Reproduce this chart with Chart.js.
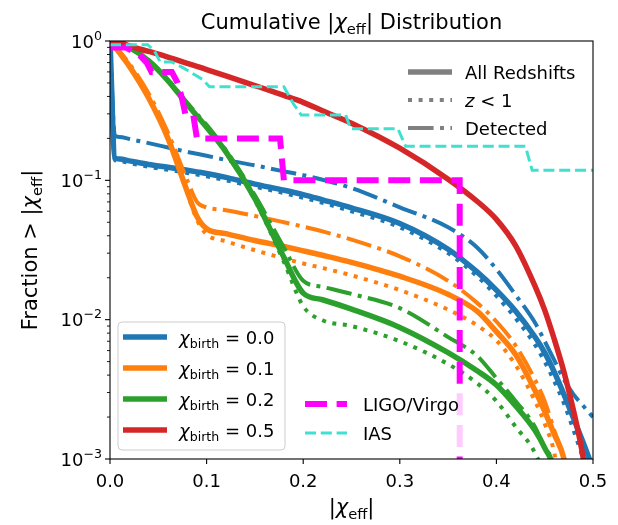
<!DOCTYPE html>
<html>
<head>
<meta charset="utf-8">
<script src="https://cdn.jsdelivr.net/npm/chart.js@4.4.0/dist/chart.umd.min.js"></script>
<style>
  html, body { margin: 0; padding: 0; background: #fff; }
</style>
</head>
<body>
<canvas id="cdf" width="618" height="525"></canvas>
<script>
// |chi_eff| grid shared by the model curves
const chiGrid = [0, 0.005, 0.01, 0.02, 0.04, 0.06, 0.08, 0.09, 0.1, 0.12, 0.15, 0.18, 0.2, 0.22, 0.25, 0.3, 0.35, 0.38, 0.4, 0.42, 0.44, 0.45, 0.46, 0.47, 0.48, 0.49, 0.5];

// chi_birth = 0.0
const all00 = [1.0, 0.145, 0.142, 0.138, 0.13, 0.124, 0.118, 0.115, 0.112, 0.105, 0.094, 0.085, 0.079, 0.0725, 0.0635, 0.049, 0.032, 0.022, 0.0163, 0.0115, 0.0075, 0.0058, 0.0042, 0.0029, 0.00195, 0.0013, 0.00085];
const low00 = [1.0, 0.14, 0.137, 0.133, 0.125, 0.119, 0.113, 0.11, 0.107, 0.1, 0.09, 0.081, 0.075, 0.069, 0.06, 0.046, 0.03, 0.0205, 0.0148, 0.0102, 0.0066, 0.005, 0.0036, 0.0025, 0.0016, 0.001, 0.0006];
const det00 = [1.0, 0.21, 0.205, 0.198, 0.185, 0.172, 0.16, 0.155, 0.15, 0.14, 0.128, 0.116, 0.109, 0.101, 0.088, 0.064, 0.046, 0.033, 0.023, 0.015, 0.0095, 0.007, 0.0051, 0.0037, 0.0029, 0.0024, 0.002];
// chi_birth = 0.1
const all01 = [1.0, 0.91, 0.82, 0.66, 0.39, 0.2, 0.083, 0.055, 0.045, 0.0415, 0.037, 0.0335, 0.0312, 0.029, 0.0258, 0.0205, 0.0152, 0.0115, 0.0082, 0.0056, 0.0031, 0.0022, 0.0015, 0.001, 0.0004, null, null];
const low01 = [1.0, 0.91, 0.82, 0.66, 0.39, 0.2, 0.081, 0.052, 0.041, 0.0365, 0.0315, 0.0275, 0.0253, 0.0235, 0.0208, 0.0163, 0.0118, 0.0091, 0.0071, 0.0047, 0.0026, 0.0018, 0.0011, 0.0004, null, null, null];
const det01 = [1.0, 0.92, 0.84, 0.69, 0.42, 0.22, 0.1, 0.07, 0.064, 0.061, 0.0555, 0.05, 0.0465, 0.043, 0.0375, 0.0285, 0.019, 0.0132, 0.0097, 0.0065, 0.0037, 0.0026, 0.0016, 0.001, 0.0004, null, null];
// chi_birth = 0.2
const all02 = [1.0, 0.98, 0.96, 0.9, 0.72, 0.52, 0.35, 0.29, 0.24, 0.16, 0.074, 0.028, 0.0155, 0.0139, 0.0119, 0.0088, 0.0058, 0.0043, 0.0034, 0.0024, 0.0016, 0.0012, 0.0008, 0.0002, null, null, null];
const low02 = [1.0, 0.98, 0.96, 0.9, 0.72, 0.52, 0.35, 0.29, 0.24, 0.16, 0.072, 0.026, 0.0125, 0.0099, 0.009, 0.007, 0.0048, 0.0035, 0.0026, 0.0017, 0.0011, 0.0007, 0.0002, null, null, null, null];
const det02 = [1.0, 0.98, 0.96, 0.9, 0.73, 0.53, 0.36, 0.3, 0.25, 0.165, 0.078, 0.033, 0.019, 0.0172, 0.0153, 0.0121, 0.0075, 0.0055, 0.0038, 0.0026, 0.0017, 0.0012, 0.0009, 0.0003, null, null, null];
// chi_birth = 0.5
const all05 = [1.0, 0.991, 0.98, 0.923, 0.841, 0.767, 0.692, 0.658, 0.624, 0.562, 0.479, 0.407, 0.363, 0.316, 0.257, 0.17, 0.102, 0.0708, 0.0525, 0.0339, 0.0174, 0.0117, 0.0072, 0.0042, 0.0022, 0.001, 0.0003];

// observed catalogues
const ligoChi  = [0, 0.016, 0.03, 0.038, 0.043, 0.064, 0.07, 0.074, 0.078, 0.086, 0.09, 0.176, 0.18, 0.362, 0.362];
const ligoFrac = [0.9, 0.9, 0.8, 0.7, 0.6, 0.6, 0.5, 0.4, 0.3, 0.3, 0.2, 0.2, 0.1, 0.1, 0.0001];
const iasChi  = [0, 0.039, 0.046, 0.052, 0.064, 0.075, 0.085, 0.096, 0.103, 0.18, 0.19, 0.198, 0.244, 0.249, 0.298, 0.306, 0.43, 0.437, 0.52];
const iasFrac = [0.941, 0.941, 0.85, 0.706, 0.706, 0.647, 0.588, 0.529, 0.47, 0.47, 0.353, 0.294, 0.294, 0.235, 0.235, 0.176, 0.176, 0.118, 0.118];

const spinLabels = ['0.0', '0.1', '0.2', '0.5'];
const spinColors = ['#1f77b4', '#ff7f0e', '#2ca02c', '#d62728'];
const xTicks = [0, 0.1, 0.2, 0.3, 0.4, 0.5];
const yTicks = [1, 0.1, 0.01, 0.001];
const yTickExp = ['0', '\u22121', '\u22122', '\u22123'];

const FAM = "'DejaVu Sans'";
const SOLID = [], DOTTED = [4, 6.6], DASHDOT = [25.6, 6.4, 4, 6.4];

function toPoints(xs, ys) {
    const pts = [];
    xs.forEach((x, i) => { if (ys[i] != null) pts.push({x: x, y: ys[i]}); });
    return pts;
}

function model(ys, color, dash) {
    return {
        data: toPoints(chiGrid, ys),
        borderColor: color,
        borderWidth: dash.length ? 4 : 5.5,
        borderDash: dash,
        pointRadius: 0,
        cubicInterpolationMode: 'monotone',
        clip: 0
    };
}

const datasets = [
    model(all00, spinColors[0], SOLID), model(low00, spinColors[0], DOTTED), model(det00, spinColors[0], DASHDOT),
    model(all01, spinColors[1], SOLID), model(low01, spinColors[1], DOTTED), model(det01, spinColors[1], DASHDOT),
    model(all02, spinColors[2], SOLID), model(low02, spinColors[2], DOTTED), model(det02, spinColors[2], DASHDOT),
    model(all05, spinColors[3], SOLID),
    {data: toPoints(ligoChi, ligoFrac), borderColor: '#ff00ff', borderWidth: 6, borderDash: [22, 9.6], pointRadius: 0, tension: 0, clip: 0},
    {data: toPoints(iasChi, iasFrac), borderColor: '#40e0d0', borderWidth: 3, borderDash: [11, 4.8], pointRadius: 0, tension: 0, clip: 0}
];
// later datasets on top, like the plotting order
datasets.forEach((d, i) => { d.order = datasets.length - i; });

function drawRuns(ctx, runs, x, y, align) {
    let w = 0;
    runs.forEach(r => { ctx.font = r.font; r.w = ctx.measureText(r.text).width; w += r.w; });
    let cx = align === 'center' ? x - w / 2 : (align === 'right' ? x - w : x);
    ctx.textAlign = 'left';
    ctx.textBaseline = 'alphabetic';
    runs.forEach(r => { ctx.font = r.font; ctx.fillText(r.text, cx, y + (r.dy || 0)); cx += r.w; });
}

function chiEff(size) {
    return [
        {text: '|', font: `${size}px ${FAM}`},
        {text: '\u03c7', font: `italic ${size}px ${FAM}`},
        {text: 'eff', font: `${size * 0.7}px ${FAM}`, dy: size * 0.22},
        {text: '|', font: `${size}px ${FAM}`}
    ];
}

function sample(ctx, x0, x1, yy, color, width, dash) {
    ctx.beginPath();
    ctx.setLineDash(dash);
    ctx.strokeStyle = color;
    ctx.lineWidth = width;
    ctx.moveTo(x0, yy);
    ctx.lineTo(x1, yy);
    ctx.stroke();
    ctx.setLineDash([]);
}

function roundRect(ctx, x, y, w, h, r) {
    ctx.beginPath();
    ctx.moveTo(x + r, y);
    ctx.arcTo(x + w, y, x + w, y + h, r);
    ctx.arcTo(x + w, y + h, x, y + h, r);
    ctx.arcTo(x, y + h, x, y, r);
    ctx.arcTo(x, y, x + w, y, r);
    ctx.closePath();
}

const decor = {
    id: 'decor',
    afterDatasetsDraw(chart) {
        const ctx = chart.ctx;
        const a = chart.chartArea;
        const xs = chart.scales.x, ys = chart.scales.y;
        ctx.save();
        ctx.fillStyle = '#000';
        ctx.strokeStyle = '#000';

        // frame
        ctx.lineWidth = 1.1;
        ctx.strokeRect(a.left, a.top, a.right - a.left, a.bottom - a.top);

        // x ticks and labels
        xTicks.forEach(v => {
            const px = xs.getPixelForValue(v);
            ctx.beginPath(); ctx.moveTo(px, a.bottom); ctx.lineTo(px, a.bottom + 5); ctx.stroke();
            drawRuns(ctx, [{text: v.toFixed(1), font: `18px ${FAM}`}], px, a.bottom + 28, 'center');
        });

        // y ticks (log, with minors) and labels
        for (let e = -3; e < 0; e++) {
            for (let m = 2; m <= 9; m++) {
                const py = ys.getPixelForValue(m * Math.pow(10, e));
                ctx.lineWidth = 0.9;
                ctx.beginPath(); ctx.moveTo(a.left, py); ctx.lineTo(a.left - 3, py); ctx.stroke();
            }
        }
        ctx.lineWidth = 1.1;
        yTicks.forEach((v, i) => {
            const py = ys.getPixelForValue(v);
            ctx.beginPath(); ctx.moveTo(a.left, py); ctx.lineTo(a.left - 5, py); ctx.stroke();
            drawRuns(ctx, [
                {text: '10', font: `18px ${FAM}`},
                {text: yTickExp[i], font: `12.6px ${FAM}`, dy: -8}
            ], a.left - 8, py + 6.5, 'right');
        });

        // title
        drawRuns(ctx, [{text: 'Cumulative ', font: `21px ${FAM}`}].concat(chiEff(21), [{text: ' Distribution', font: `21px ${FAM}`}]),
            (a.left + a.right) / 2, 29, 'center');

        // x label
        drawRuns(ctx, chiEff(21), (a.left + a.right) / 2, 514, 'center');

        // y label
        ctx.save();
        ctx.translate(37, (a.top + a.bottom) / 2);
        ctx.rotate(-Math.PI / 2);
        drawRuns(ctx, [{text: 'Fraction ', font: `21px ${FAM}`}, {text: '> ', font: `21px ${FAM}`}].concat(chiEff(21)), 0, 0, 'center');
        ctx.restore();

        // legend: line styles (no frame)
        const styleRows = [
            {y: 72, dash: SOLID, w: 5.5, runs: [{text: 'All Redshifts', font: `18px ${FAM}`}]},
            {y: 100, dash: DOTTED, w: 4, runs: [{text: 'z', font: `italic 18px ${FAM}`}, {text: ' < 1', font: `18px ${FAM}`}]},
            {y: 128, dash: DASHDOT, w: 4, runs: [{text: 'Detected', font: `18px ${FAM}`}]}
        ];
        styleRows.forEach(r => {
            sample(ctx, 408, 452, r.y, '#808080', r.w, r.dash);
            ctx.fillStyle = '#000';
            drawRuns(ctx, r.runs, 465, r.y + 6.5, 'left');
        });

        // legend: birth spins
        roundRect(ctx, 118, 322, 167, 128, 4);
        ctx.fillStyle = 'rgba(255,255,255,0.8)';
        ctx.fill();
        ctx.strokeStyle = '#cccccc';
        ctx.lineWidth = 1;
        ctx.stroke();
        spinLabels.forEach((lab, i) => {
            const yy = 337 + i * 31;
            sample(ctx, 123, 167, yy, spinColors[i], 5.5, SOLID);
            ctx.fillStyle = '#000';
            drawRuns(ctx, [
                {text: '\u03c7', font: `italic 18px ${FAM}`},
                {text: 'birth', font: `12.6px ${FAM}`, dy: 4},
                {text: ' = ' + lab, font: `18px ${FAM}`}
            ], 179, yy + 6.5, 'left');
        });

        // legend: observations
        ctx.fillStyle = 'rgba(255,255,255,0.8)';
        ctx.fillRect(298, 389, 178, 62);
        sample(ctx, 305, 347, 404, '#ff00ff', 6, [22, 9.6]);
        sample(ctx, 305, 347, 433, '#40e0d0', 3, [11, 4.8]);
        ctx.fillStyle = '#000';
        drawRuns(ctx, [{text: 'LIGO/Virgo', font: `18px ${FAM}`}], 363, 410.5, 'left');
        drawRuns(ctx, [{text: 'IAS', font: `18px ${FAM}`}], 363, 439.5, 'left');

        ctx.restore();
    }
};

new Chart(document.getElementById('cdf'), {
    type: 'line',
    data: { datasets: datasets },
    options: {
        responsive: false,
        animation: false,
        devicePixelRatio: 1,
        layout: { padding: { left: 110, top: 41, right: 25, bottom: 66 } },
        plugins: { legend: { display: false }, tooltip: { enabled: false } },
        scales: {
            x: { type: 'linear', min: 0, max: 0.5, display: false },
            y: { type: 'logarithmic', min: 0.001, max: 1, display: false }
        }
    },
    plugins: [decor]
});
</script>
</body>
</html>
